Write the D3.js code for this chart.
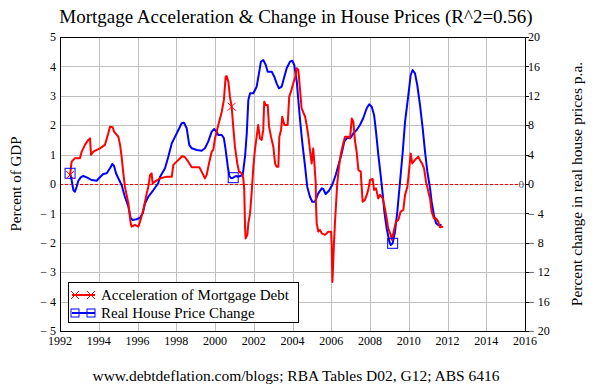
<!DOCTYPE html>
<html>
<head>
<meta charset="utf-8">
<script src="https://cdn.jsdelivr.net/npm/d3@7"></script>
<style>
  body { margin: 0; background: #fff; }
  svg { display: block; }
  svg text { font-family: "Liberation Serif", "Times New Roman", Times, serif; }
</style>
</head>
<body>
<div id="chart"></div>
<script>
const width = 592;
const height = 385;
const margin = {top: 37, right: 67, bottom: 54, left: 60};
const colorDebt = "#ff0000";
const colorPrice = "#0000ff";
const colorGrid = "#c0c0c0";
const serif = "'Liberation Serif', 'Times New Roman', Times, serif";

const title = "Mortgage Acceleration & Change in House Prices (R^2=0.56)";
const source = "www.debtdeflation.com/blogs; RBA Tables D02, G12; ABS 6416";
const leftLabel = "Percent of GDP";
const rightLabel = "Percent change in real house prices p.a.";
const legendLabels = ["Acceleration of Mortgage Debt", "Real House Price Change"];

const yearTicks = d3.range(1992, 2017, 2);
const leftTicks = d3.range(-5, 6, 1);
const rightTicks = d3.range(-20, 21, 4);

// [year, % of GDP]
const debtAcceleration = [
  [1992.52,0.31],[1992.60,0.76],[1992.77,0.88],[1993.03,0.88],[1993.12,1.10],[1993.29,1.33],[1993.46,1.50],
  [1993.55,1.55],[1993.60,0.99],[1993.72,1.10],[1994.06,1.21],[1994.32,1.33],[1994.49,1.72],[1994.58,1.95],
  [1994.72,1.93],[1994.79,1.78],[1995.01,1.61],[1995.10,1.33],[1995.18,0.93],[1995.27,0.36],[1995.35,-0.09],
  [1995.53,-0.66],[1995.65,-1.34],[1995.70,-1.45],[1995.87,-1.39],[1996.04,-1.45],[1996.13,-1.28],[1996.30,-0.88],
  [1996.44,-0.43],[1996.56,-0.09],[1996.65,0.31],[1996.73,0.36],[1996.78,0.02],[1996.90,0.08],[1997.16,0.19],
  [1997.51,0.25],[1997.77,0.25],[1997.85,0.65],[1998.02,0.76],[1998.19,0.87],[1998.31,0.95],[1998.45,0.91],
  [1998.62,0.76],[1998.80,0.57],[1999.19,0.57],[1999.31,0.42],[1999.48,0.19],[1999.57,0.31],[1999.71,0.76],
  [1999.83,1.10],[1999.91,1.16],[2000.00,1.55],[2000.17,2.01],[2000.35,2.46],[2000.46,2.86],[2000.55,3.65],
  [2000.60,3.67],[2000.69,3.48],[2000.77,2.97],[2000.86,2.63],[2000.94,1.95],[2001.03,1.27],[2001.15,0.70],
  [2001.24,0.42],[2001.38,0.36],[2001.46,0.19],[2001.51,-0.20],[2001.55,-1.45],[2001.58,-1.85],[2001.67,-1.73],
  [2001.72,-1.34],[2001.81,-1.00],[2001.89,-0.32],[2001.98,0.59],[2002.06,1.16],[2002.15,1.61],[2002.23,2.01],
  [2002.32,1.55],[2002.41,1.50],[2002.49,1.84],[2002.54,2.80],[2002.61,2.69],[2002.72,2.69],[2002.79,1.95],
  [2002.89,1.61],[2003.01,1.27],[2003.10,0.70],[2003.18,0.59],[2003.27,0.59],[2003.32,1.61],[2003.41,1.84],
  [2003.47,2.29],[2003.58,2.01],[2003.75,2.01],[2003.83,2.97],[2003.92,3.14],[2004.04,3.43],[2004.13,3.60],
  [2004.22,3.94],[2004.30,3.88],[2004.39,3.20],[2004.47,2.57],[2004.65,2.29],[2004.73,2.01],[2004.82,1.61],
  [2004.90,1.16],[2004.99,0.70],[2005.07,1.21],[2005.13,0.70],[2005.20,0.02],[2005.21,-0.66],[2005.25,-1.34],
  [2005.33,-1.62],[2005.42,-1.56],[2005.51,-1.68],[2005.68,-1.73],[2005.85,-1.62],[2005.99,-1.62],[2006.02,-2.02],
  [2006.06,-3.33],[2006.14,-2.02],[2006.19,-1.34],[2006.25,-0.66],[2006.31,0.02],[2006.40,0.59],[2006.50,1.04],
  [2006.62,1.38],[2006.71,1.61],[2006.88,1.61],[2006.97,1.55],[2007.06,2.23],[2007.14,2.12],[2007.23,1.44],
  [2007.31,1.10],[2007.40,0.48],[2007.52,0.42],[2007.62,-0.60],[2007.74,-0.54],[2007.83,-0.37],[2007.91,-0.20],
  [2008.00,0.14],[2008.14,0.17],[2008.21,-0.20],[2008.31,-0.15],[2008.43,-0.49],[2008.52,-0.37],[2008.66,-0.49],
  [2008.77,-0.83],[2008.86,-1.17],[2008.94,-1.51],[2009.07,-1.73],[2009.12,-1.90],[2009.20,-1.68],[2009.34,-1.28],
  [2009.46,-1.22],[2009.58,-0.94],[2009.72,-0.88],[2009.81,-0.37],[2009.93,-0.09],[2010.01,0.42],[2010.10,1.04],
  [2010.18,0.70],[2010.32,0.82],[2010.49,0.93],[2010.62,0.76],[2010.68,0.71],[2010.79,0.53],[2010.89,0.08],
  [2011.01,-0.26],[2011.10,-0.49],[2011.18,-0.94],[2011.30,-1.17],[2011.41,-1.17],[2011.52,-1.28],[2011.61,-1.47],
  [2011.78,-1.45]
];

// [year, % change p.a.]
const housePriceChange = [
  [1992.52,1.46],[1992.60,0.54],[1992.69,-0.82],[1992.77,-1.05],[1992.86,-0.37],[1992.94,0.41],[1993.07,0.91],
  [1993.20,1.09],[1993.38,0.91],[1993.64,0.54],[1993.89,0.45],[1994.06,0.91],[1994.23,1.36],[1994.41,1.46],
  [1994.58,2.14],[1994.70,2.72],[1994.79,2.45],[1994.89,1.46],[1995.01,0.78],[1995.18,-0.14],[1995.35,-1.73],
  [1995.53,-3.09],[1995.65,-4.67],[1995.75,-4.90],[1995.96,-4.80],[1996.13,-4.59],[1996.27,-3.99],[1996.39,-2.63],
  [1996.56,-1.73],[1996.82,-0.82],[1997.07,0.10],[1997.16,0.95],[1997.42,2.14],[1997.59,3.71],[1997.77,5.54],
  [1997.94,6.44],[1998.11,7.35],[1998.28,8.26],[1998.40,8.34],[1998.54,7.58],[1998.67,5.31],[1998.80,4.86],
  [1999.06,4.63],[1999.31,4.53],[1999.48,4.86],[1999.65,5.76],[1999.83,7.12],[1999.96,7.48],[2000.09,7.07],
  [2000.17,6.67],[2000.35,6.67],[2000.46,6.22],[2000.55,4.63],[2000.66,2.35],[2000.74,1.09],[2000.83,0.78],
  [2000.94,0.86],[2001.08,1.09],[2001.20,0.99],[2001.29,1.09],[2001.43,1.22],[2001.55,3.71],[2001.64,6.90],
  [2001.72,11.43],[2001.81,12.34],[2001.98,12.34],[2002.15,13.24],[2002.27,15.06],[2002.37,16.64],[2002.49,16.87],
  [2002.62,16.19],[2002.72,15.28],[2002.93,15.28],[2003.06,14.60],[2003.18,13.70],[2003.30,13.02],[2003.44,13.24],
  [2003.58,14.60],[2003.70,15.74],[2003.87,16.64],[2003.99,16.78],[2004.09,16.19],[2004.22,13.92],[2004.30,11.43],
  [2004.39,8.71],[2004.51,5.54],[2004.65,2.35],[2004.76,-0.37],[2004.90,-1.73],[2005.02,-2.41],[2005.16,-2.41],
  [2005.33,-1.27],[2005.51,-0.59],[2005.59,-0.68],[2005.71,-1.36],[2005.88,-0.91],[2006.05,-0.14],[2006.23,1.22],
  [2006.40,2.82],[2006.54,4.18],[2006.67,5.76],[2006.80,6.22],[2007.02,6.35],[2007.14,6.90],[2007.31,7.35],
  [2007.48,8.03],[2007.65,8.94],[2007.83,10.30],[2007.96,10.84],[2008.09,10.52],[2008.21,9.39],[2008.31,7.12],
  [2008.43,3.95],[2008.55,1.22],[2008.66,-1.50],[2008.74,-3.77],[2008.86,-6.03],[2009.00,-7.85],[2009.07,-8.30],
  [2009.17,-8.07],[2009.29,-6.49],[2009.41,-3.77],[2009.55,0.31],[2009.69,4.39],[2009.81,8.48],[2009.98,12.11],
  [2010.10,14.83],[2010.20,15.51],[2010.32,15.06],[2010.44,13.47],[2010.58,10.75],[2010.72,7.58],[2010.84,4.39],
  [2010.96,1.67],[2011.10,-0.59],[2011.18,-2.41],[2011.30,-4.22],[2011.41,-5.35],[2011.52,-5.58],[2011.69,-5.58]
];

const debtMarkerYears = [1992.52, 2000.86];
const priceMarkerYears = [1992.52, 2000.90, 2009.17];

const x = d3.scaleLinear().domain([1992, 2016]).range([margin.left, width - margin.right]);
const yLeft = d3.scaleLinear().domain([-5, 5]).range([height - margin.bottom, margin.top]);
const yRight = d3.scaleLinear().domain([-20, 20]).range([height - margin.bottom, margin.top]);

const fmt = d => d < 0 ? "\u2212 " + Math.abs(d) : String(d);

const svg = d3.select("#chart")
    .append("svg")
    .attr("width", width)
    .attr("height", height)
    .attr("font-family", serif);

// grid
svg.append("g")
    .attr("stroke", colorGrid)
    .attr("stroke-width", 1)
    .call(g => g.selectAll("line.v")
        .data(yearTicks)
        .join("line")
        .attr("class", "v")
        .attr("x1", d => Math.round(x(d)) + 0.5)
        .attr("x2", d => Math.round(x(d)) + 0.5)
        .attr("y1", margin.top)
        .attr("y2", height - margin.bottom))
    .call(g => g.selectAll("line.h")
        .data(leftTicks)
        .join("line")
        .attr("class", "h")
        .attr("x1", margin.left)
        .attr("x2", width - margin.right)
        .attr("y1", d => Math.round(yLeft(d)) + 0.5)
        .attr("y2", d => Math.round(yLeft(d)) + 0.5));

// zero line
svg.append("line")
    .attr("x1", margin.left)
    .attr("x2", width - margin.right - 6)
    .attr("y1", Math.round(yLeft(0)) + 0.5)
    .attr("y2", Math.round(yLeft(0)) + 0.5)
    .attr("stroke", colorDebt)
    .attr("stroke-dasharray", "3,2");

svg.append("text")
    .attr("x", width - margin.right - 1)
    .attr("y", yLeft(0))
    .attr("dy", "0.35em")
    .attr("text-anchor", "end")
    .attr("font-size", 11)
    .attr("fill", "#555")
    .text("0");

const lineDebt = d3.line().x(d => x(d[0])).y(d => yLeft(d[1]));
const linePrice = d3.line().x(d => x(d[0])).y(d => yRight(d[1]));

svg.append("path")
    .datum(housePriceChange)
    .attr("fill", "none")
    .attr("stroke", colorPrice)
    .attr("stroke-width", 2)
    .attr("stroke-linejoin", "round")
    .attr("d", linePrice);

svg.append("path")
    .datum(debtAcceleration)
    .attr("fill", "none")
    .attr("stroke", colorDebt)
    .attr("stroke-width", 2)
    .attr("stroke-linejoin", "round")
    .attr("d", lineDebt);

function nearest(series, yr) {
    return d3.least(series, d => Math.abs(d[0] - yr));
}

function cross(g, cx, cy, r) {
    g.append("path")
        .attr("d", `M${cx - r},${cy - r}L${cx + r},${cy + r}M${cx - r},${cy + r}L${cx + r},${cy - r}`)
        .attr("stroke", colorDebt)
        .attr("stroke-width", 1)
        .attr("fill", "none");
}

function square(g, cx, cy, r) {
    g.append("rect")
        .attr("x", cx - r)
        .attr("y", cy - r)
        .attr("width", 2 * r)
        .attr("height", 2 * r)
        .attr("stroke", colorPrice)
        .attr("stroke-width", 1)
        .attr("fill", "none");
}

const markers = svg.append("g");
priceMarkerYears.forEach(yr => {
    const p = nearest(housePriceChange, yr);
    square(markers, x(p[0]), yRight(p[1]), 5);
});
debtMarkerYears.forEach(yr => {
    const p = nearest(debtAcceleration, yr);
    cross(markers, x(p[0]), yLeft(p[1]), 4);
});

// frame
svg.append("rect")
    .attr("x", margin.left + 0.5)
    .attr("y", margin.top + 0.5)
    .attr("width", width - margin.left - margin.right)
    .attr("height", height - margin.top - margin.bottom)
    .attr("fill", "none")
    .attr("stroke", "#000");

// axes
const leftAxis = svg.append("g")
    .attr("font-size", 12)
    .attr("text-anchor", "end");
leftAxis.selectAll("text")
    .data(leftTicks)
    .join("text")
    .attr("x", margin.left - 4)
    .attr("y", d => yLeft(d))
    .attr("dy", "0.35em")
    .text(fmt);

const rightAxis = svg.append("g")
    .attr("font-size", 12);
rightAxis.selectAll("line")
    .data(rightTicks)
    .join("line")
    .attr("x1", width - margin.right)
    .attr("x2", width - margin.right + 4)
    .attr("y1", d => Math.round(yRight(d)) + 0.5)
    .attr("y2", d => Math.round(yRight(d)) + 0.5)
    .attr("stroke", "#000");
rightAxis.selectAll("text")
    .data(rightTicks)
    .join("text")
    .attr("x", width - margin.right + 3)
    .attr("y", d => yRight(d))
    .attr("dy", "0.35em")
    .text(fmt);

svg.append("g")
    .attr("font-size", 12)
    .attr("text-anchor", "middle")
    .selectAll("text")
    .data(yearTicks)
    .join("text")
    .attr("x", d => x(d))
    .attr("y", height - margin.bottom + 14)
    .text(d => d);

// titles
svg.append("text")
    .attr("x", width / 2)
    .attr("y", 23)
    .attr("text-anchor", "middle")
    .attr("font-size", 19)
    .text(title);

svg.append("text")
    .attr("x", width / 2)
    .attr("y", 381)
    .attr("text-anchor", "middle")
    .attr("font-size", 15.5)
    .text(source);

svg.append("text")
    .attr("transform", `translate(21,${yLeft(0)}) rotate(-90)`)
    .attr("text-anchor", "middle")
    .attr("font-size", 15)
    .text(leftLabel);

svg.append("text")
    .attr("transform", `translate(582,${yLeft(0)}) rotate(-90)`)
    .attr("text-anchor", "middle")
    .attr("font-size", 15.5)
    .text(rightLabel);

// legend
const legend = svg.append("g").attr("transform", "translate(68,282)");
legend.append("rect")
    .attr("x", 0.5)
    .attr("y", 0.5)
    .attr("width", 230)
    .attr("height", 40)
    .attr("fill", "#fff")
    .attr("stroke", "#000");

legendLabels.forEach((label, i) => {
    const cy = 13 + i * 18;
    const c = i === 0 ? colorDebt : colorPrice;
    legend.append("line")
        .attr("x1", 4).attr("x2", 27)
        .attr("y1", cy).attr("y2", cy)
        .attr("stroke", c)
        .attr("stroke-width", 2);
    [7, 23].forEach(mx => {
        if (i === 0) cross(legend, mx, cy, 4);
        else square(legend, mx, cy, 4);
    });
    legend.append("text")
        .attr("x", 33)
        .attr("y", cy)
        .attr("dy", "0.35em")
        .attr("font-size", 15)
        .text(label);
});
</script>
</body>
</html>
